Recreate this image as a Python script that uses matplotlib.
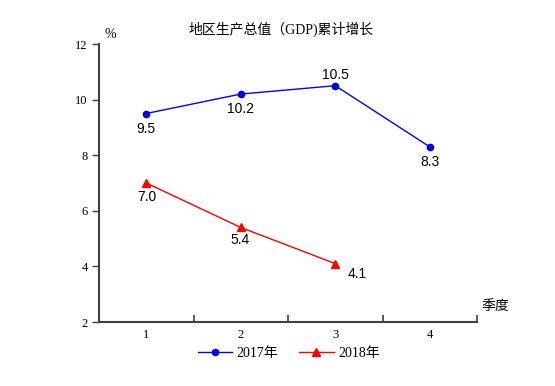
import matplotlib
matplotlib.use("Agg")
import matplotlib.pyplot as plt
from matplotlib.ticker import FixedLocator, NullFormatter

quarters = [1, 2, 3, 4]
quarter_labels = ["1", "2", "3", "4"]
gdp_2017 = [9.5, 10.2, 10.5, 8.3]
gdp_2018 = [7.0, 5.4, 4.1]
yticks = [2, 4, 6, 8, 10, 12]

serif = ["Liberation Serif", "Noto Sans CJK SC"]
sans = ["Liberation Sans", "DejaVu Sans"]

fig = plt.figure(figsize=(5.55, 3.86), dpi=100)
ax = fig.add_axes([0.1784, 0.1658, 0.6811, 0.7202])

ax.plot(quarters, gdp_2017, color="#0000FF", lw=1.0, marker="o", ms=4.5,
        markerfacecolor="#0000FF", markeredgecolor="#0000CC", label="2017年")
ax.plot(quarters[:len(gdp_2018)], gdp_2018, color="#FF0000", lw=1.0, marker="^", ms=6,
        markerfacecolor="#FF0000", markeredgecolor="#FF0000", label="2018年")

offs17 = [(0, -15), (0, -15), (0, 11), (0, -15)]
for x, y, o in zip(quarters, gdp_2017, offs17):
    ax.annotate(f"{y:.1f}", (x, y), xytext=o, textcoords="offset pixels",
                ha="center", va="center", fontsize=10, family=sans)
offs18 = [(1, -14), (-1, -13), (22, -10)]
for x, y, o in zip(quarters, gdp_2018, offs18):
    ax.annotate(f"{y:.1f}", (x, y), xytext=o, textcoords="offset pixels",
                ha="center", va="center", fontsize=10, family=sans)

ax.set_xlim(0.5, 4.5)
ax.set_ylim(2, 12)
ax.set_yticks(yticks)
ax.set_yticklabels([str(v) for v in yticks], family=serif, fontsize=9)
ax.xaxis.set_major_locator(FixedLocator([0.5, 1.5, 2.5, 3.5, 4.5]))
ax.xaxis.set_major_formatter(NullFormatter())
ax.xaxis.set_minor_locator(FixedLocator(quarters))
ax.set_xticklabels(quarter_labels, minor=True, family=serif, fontsize=9)
ax.tick_params(axis="x", which="major", direction="in", length=5, width=1.2, color="#404040")
ax.tick_params(axis="x", which="minor", length=0, pad=5)
ax.tick_params(axis="y", direction="out", length=5, width=1.0, color="#404040", pad=3)
for s in ["top", "right"]:
    ax.spines[s].set_visible(False)
for s in ["left", "bottom"]:
    ax.spines[s].set_color("#404040")
    ax.spines[s].set_linewidth(1.5)

fig.text(0.507, 0.925, "地区生产总值（GDP)累计增长", ha="center", va="center",
         fontsize=10, family=serif)
fig.text(0.199, 0.91, "%", ha="center", va="center", fontsize=10, family=serif)
fig.text(0.867, 0.207, "季度", ha="left", va="center", fontsize=10, family=serif)

leg = fig.legend(loc="center", bbox_to_anchor=(0.52, 0.085), ncol=2, frameon=False,
                 prop={"family": serif, "size": 10}, handlelength=2.5, columnspacing=1.5,
                 handletextpad=0.3)

fig.savefig("out.png", dpi=100)
